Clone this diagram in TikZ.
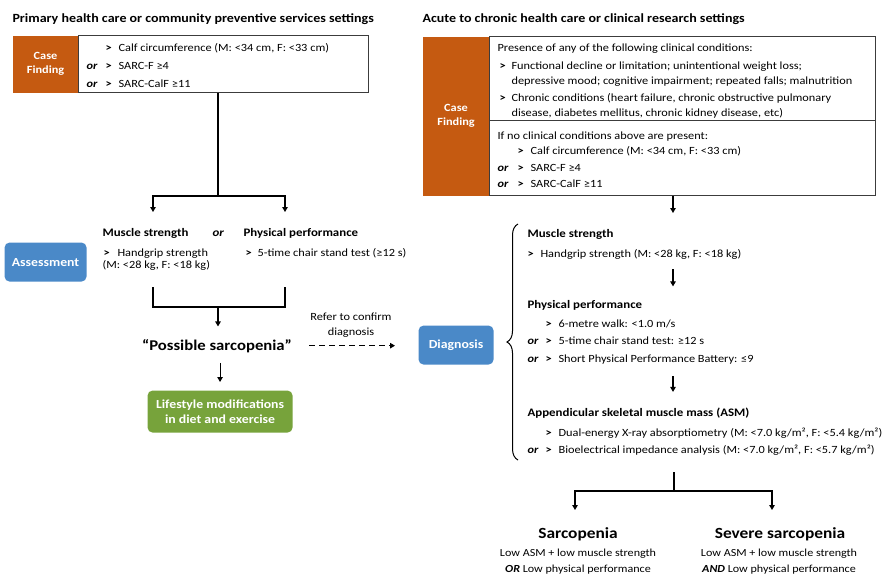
\documentclass[tikz,border=0pt]{standalone}
\usepackage{fontspec}
\setmainfont{Carlito}[FakeStretch=1.12]
\usepackage{xcolor}
\usepackage{tikz}
\usetikzlibrary{arrows.meta, positioning, decorations.pathreplacing}
\definecolor{CaseOrange}{RGB}{197,90,17}
\definecolor{StageBlue}{RGB}{74,137,200}
\definecolor{LifeGreen}{RGB}{119,163,59}
\definecolor{BoxGray}{RGB}{60,60,60}
\newcommand{\tri}{\makebox[13pt][l]{\textbf{>}}}
\newcommand{\orr}[1][19pt]{\makebox[#1][l]{\textbf{\textit{or}}}}

\begin{document}
\begin{tikzpicture}[x=1pt, y=-1pt, line width=1.1pt,
		txt/.style={anchor=base west, inner sep=0pt, font=\fontsize{11}{13}\selectfont},
		boldtxt/.style={txt, font=\fontsize{11.5}{13}\selectfont\bfseries},
		head/.style={txt, font=\fontsize{12.5}{14}\selectfont\bfseries},
		casebox/.style={fill=CaseOrange, text=white, anchor=north west, inner sep=0pt, align=center,
			font=\fontsize{11}{14}\selectfont\bfseries},
		listbox/.style={draw=BoxGray, line width=0.9pt, anchor=north west, inner sep=0pt},
		stagebox/.style={fill=StageBlue, text=white, rounded corners=5pt, anchor=north west, inner sep=0pt,
			align=center, font=\fontsize{12.3}{14.5}\selectfont\bfseries},
		result/.style={anchor=base, inner sep=0pt, font=\fontsize{15.5}{17}\selectfont\bfseries},
		smalltxt/.style={anchor=base, inner sep=0pt, font=\fontsize{10.8}{12}\selectfont},
		arr/.style={-{Triangle[width=5.5pt,length=5pt]}}]
		\useasboundingbox (0,0) rectangle (882,576);
		
		% left: primary care
		\node[head] (ltitle) at (12,22) {Primary health care or community preventive services settings};
		\node[casebox, minimum width=66pt, minimum height=57pt] (lcase) at (12,35) {Case\\Finding};
		\node[listbox, minimum width=290pt, minimum height=57pt] (lcfbox) at (78,35) {};
		\node[txt] (lcf1) at (105,51) {\tri Calf circumference (M: <34 cm, F: <33 cm)};
		\node[txt] (lcf2) at (86,69) {\orr\tri SARC-F ≥4};
		\node[txt] (lcf3) at (86,87) {\orr\tri SARC-CalF ≥11};
		
		\node[stagebox, minimum width=82pt, minimum height=39pt] (assess) at (4,242) {Assessment};
		\node[boldtxt] (lms) at (102,236) {Muscle strength};
		\node[boldtxt, font=\fontsize{11.5}{13}\selectfont\bfseries\itshape] (lor) at (212,236) {or};
		\node[boldtxt] (lpp) at (243,236) {Physical performance};
		\node[txt] (lhg) at (103,256) {\makebox[14pt][l]{\textbf{>}}Handgrip strength};
		\node[txt] (lhg2) at (102,268) {(M: <28 kg, F: <18 kg)};
		\node[txt] (lchair) at (245,256) {\makebox[12pt][l]{\textbf{>}}5-time chair stand test (≥12 s)};
		
		\node[result, font=\fontsize{14.9}{17}\selectfont\bfseries] (poss) at (217,350) {“Possible sarcopenia”};
		\node[stagebox, fill=LifeGreen, minimum width=145pt, minimum height=42pt] (life) at (147,390)
			{Lifestyle modifications\\in diet and exercise};
		\node[align=center, inner sep=0pt, font=\fontsize{11}{14.5}\selectfont] (refer) at (351,325)
			{Refer to confirm\\diagnosis};
		
		\coordinate (lsplit) at (218,196);
		\coordinate (lmsend) at (153,212);
		\coordinate (lppend) at (285,212);
		\coordinate (lbl) at (153,287);
		\coordinate (lbr) at (285,287);
		\coordinate (ljoin) at (218,307);
		\draw (lcfbox.south -| lsplit) -- (lsplit);
		\draw[arr] (lsplit) -| (lmsend);
		\draw[arr] (lsplit) -| (lppend);
		\draw (lbl) |- (ljoin) -| (lbr);
		\draw[arr, shorten >=12pt] (ljoin) -- (poss.north -| ljoin);
		\draw[arr, shorten <=10pt, shorten >=8pt] (poss.south -| life.north) -- (life.north);
		
		% right: acute to chronic care
		\node[head] (rtitle) at (422,22) {Acute to chronic health care or clinical research settings};
		\node[casebox, minimum width=67pt, minimum height=159pt] (rcase) at (422,36) {Case\\Finding};
		\node[listbox, minimum width=386pt, minimum height=159pt] (rcfbox) at (489,36) {};
		\draw[BoxGray, line width=0.9pt] ([yshift=-84pt]rcfbox.north west) -- ([yshift=-84pt]rcfbox.north east);
		\node[txt] (rcl0) at (497,51) {Presence of any of the following clinical conditions:};
		\node[txt] (rcl1) at (499,69) {\makebox[12pt][l]{\textbf{>}}Functional decline or limitation; unintentional weight loss;};
		\node[txt] (rcl2) at (511,84) {depressive mood; cognitive impairment; repeated falls; malnutrition};
		\node[txt] (rcl3) at (499,101) {\makebox[12pt][l]{\textbf{>}}Chronic conditions (heart failure, chronic obstructive pulmonary};
		\node[txt] (rcl4) at (511,116) {disease, diabetes mellitus, chronic kidney disease, etc)};
		\node[txt] (rcf0) at (497,139) {If no clinical conditions above are present:};
		\node[txt] (rcf1) at (517,154) {\tri Calf circumference (M: <34 cm, F: <33 cm)};
		\node[txt] (rcf2) at (497,171) {\orr[20pt]\tri SARC-F ≥4};
		\node[txt] (rcf3) at (497,187) {\orr[20pt]\tri SARC-CalF ≥11};
		
		\node[stagebox, minimum width=75pt, minimum height=39pt] (diag) at (418,325) {Diagnosis};
		\draw[arr, dashed, dash pattern=on 6pt off 4pt, shorten <=17pt, shorten >=23pt] (poss.east) -- (diag.west |- poss.east);
		
		\node[boldtxt] (rms) at (527,237) {Muscle strength};
		\node[txt] (rhg) at (527,257) {\tri Handgrip strength (M: <28 kg, F: <18 kg)};
		\node[boldtxt] (rpp) at (527,308) {Physical performance};
		\node[txt] (rwalk) at (545,327) {\tri 6-metre walk: <1.0 m/s};
		\node[txt] (rchair) at (527,344) {\orr[18pt]\tri 5-time chair stand test: ≥12 s};
		\node[txt] (rsppb) at (527,362) {\orr[18pt]\tri Short Physical Performance Battery: ≤9};
		\node[boldtxt] (rasm) at (527,416) {Appendicular skeletal muscle mass (ASM)};
		\node[txt] (rdxa) at (545,436) {\tri Dual-energy X-ray absorptiometry (M: <7.0 kg/m², F: <5.4 kg/m²)};
		\node[txt] (rbia) at (527,453) {\orr[18pt]\tri Bioelectrical impedance analysis (M: <7.0 kg/m², F: <5.7 kg/m²)};
		\draw[decorate, decoration={brace, amplitude=11pt}, line width=1pt] (518,460) -- (518,224);
		
		\coordinate (dtop) at (673,213);
		\draw[arr] (rcfbox.south -| dtop) -- (dtop);
		\draw[arr, shorten <=10pt, shorten >=13pt] (rhg.south -| dtop) -- (rpp.north -| dtop);
		\draw[arr, shorten <=12pt, shorten >=15pt] (rsppb.south -| dtop) -- (rasm.north -| dtop);
		
		% outcomes
		\node[result] (sarc) at (578,538) {Sarcopenia};
		\node[smalltxt] (sarc1) at (578,556) {Low ASM + low muscle strength};
		\node[smalltxt] (sarc2) at (578,572) {\textbf{\textit{OR}} Low physical performance};
		\node[result] (severe) at (780,538) {Severe sarcopenia};
		\node[smalltxt] (severe1) at (779,556) {Low ASM + low muscle strength};
		\node[smalltxt] (severe2) at (779,572) {\textbf{\textit{AND}} Low physical performance};
		
		\coordinate (btop) at (674,472);
		\coordinate (bsplit) at (674,491);
		\coordinate (sarcend) at (575,510);
		\coordinate (severeend) at (772,510);
		\draw (btop) -- (bsplit);
		\draw[arr] (bsplit) -| (sarcend);
		\draw[arr] (bsplit) -| (severeend);
	\end{tikzpicture}
\end{document}
